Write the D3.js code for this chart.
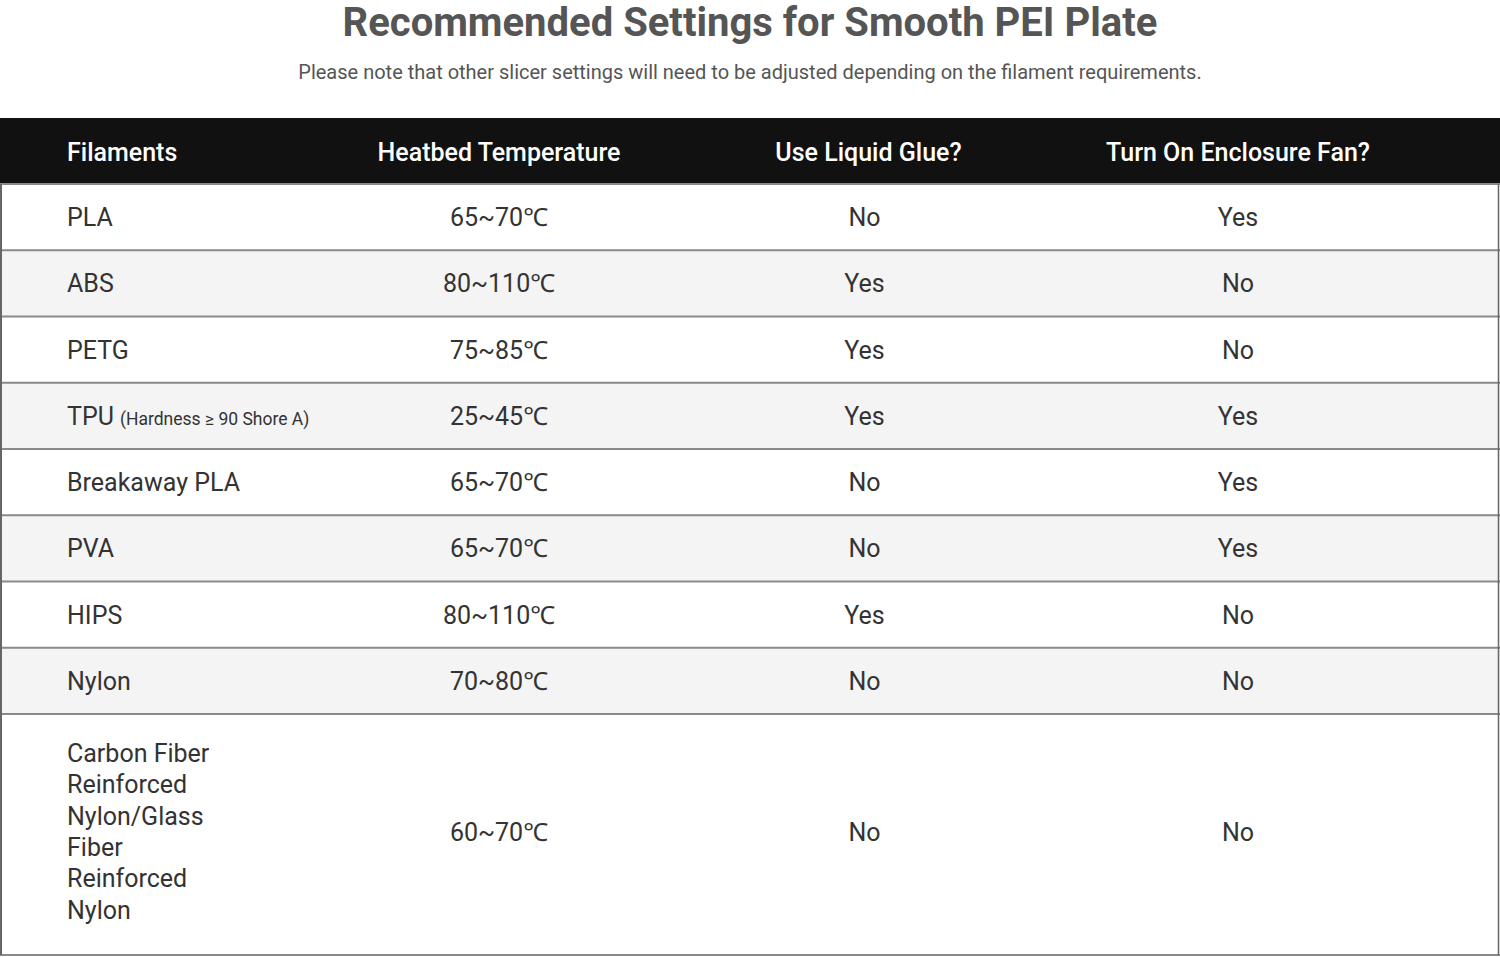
<!DOCTYPE html>
<html><head><meta charset="utf-8">
<script src="https://cdn.jsdelivr.net/npm/d3@7/dist/d3.min.js"></script>
<style>html,body{margin:0;padding:0;background:#fff;}svg{display:block;}</style>
</head><body>
<svg id="c" width="1500" height="957"></svg>
<script>
const title = "Recommended Settings for Smooth PEI Plate";
const subtitle = "Please note that other slicer settings will need to be adjusted depending on the filament requirements.";
const headers = ["Filaments", "Heatbed Temperature", "Use Liquid Glue?", "Turn On Enclosure Fan?"];
const filaments = [
  ["PLA"], ["ABS"], ["PETG"], ["TPU"], ["Breakaway PLA"], ["PVA"], ["HIPS"], ["Nylon"],
  ["Carbon Fiber", "Reinforced", "Nylon/Glass", "Fiber", "Reinforced", "Nylon"]
];
const filamentNotes = ["", "", "", "(Hardness \u2265 90 Shore A)", "", "", "", "", ""];
const heatbed = ["65~70\u2103", "80~110\u2103", "75~85\u2103", "25~45\u2103", "65~70\u2103", "65~70\u2103", "80~110\u2103", "70~80\u2103", "60~70\u2103"];
const liquidGlue = ["No", "Yes", "Yes", "Yes", "No", "No", "Yes", "No", "No"];
const enclosureFan = ["Yes", "No", "No", "Yes", "Yes", "Yes", "No", "No", "No"];
const rowUnits = [1, 1, 1, 1, 1, 1, 1, 1, 3.64];

const svg = d3.select("#c");
const W = 1500;
const font = "Roboto, 'Noto Sans', sans-serif";

svg.append("text").attr("x", W/2).attr("y", 35.5).attr("text-anchor", "middle")
  .attr("font-family", font).attr("font-weight", 700).attr("font-size", 40).attr("fill", "#555")
  .text(title);
svg.append("text").attr("x", W/2).attr("y", 79).attr("text-anchor", "middle")
  .attr("font-family", font).attr("font-size", 20).attr("fill", "#555")
  .text(subtitle);

// vertical layout via scales
const headTop = 118, headBot = 184, tableBot = 955;
const cum = [0];
rowUnits.forEach(u => cum.push(cum[cum.length-1] + u));
const y = d3.scaleLinear().domain([0, cum[cum.length-1]]).range([headBot, tableBot]);
const xCol = d3.scalePoint().domain(headers.slice(1)).range([499, 1238]);
const xLeft = 67;

const rows = filaments.map((f, i) => ({
  i, lines: f, note: filamentNotes[i],
  vals: [heatbed[i], liquidGlue[i], enclosureFan[i]],
  y0: y(cum[i]), y1: y(cum[i+1])
}));

// row backgrounds
svg.append("g").selectAll("rect").data(rows).join("rect")
  .attr("x", 0).attr("width", W).attr("y", d => d.y0).attr("height", d => d.y1 - d.y0)
  .attr("fill", d => d.i % 2 ? "#f4f4f4" : "#fff");

// header
svg.append("rect").attr("x", 0).attr("y", headTop).attr("width", W).attr("height", headBot - headTop).attr("fill", "#111");
const hy = (headTop + headBot)/2 + 9.5;
svg.append("g").selectAll("text").data(headers).join("text")
  .attr("x", (d, i) => i === 0 ? xLeft : xCol(d))
  .attr("y", hy)
  .attr("text-anchor", (d, i) => i === 0 ? "start" : "middle")
  .attr("font-family", font).attr("font-weight", 500).attr("font-size", 25).attr("fill", "#fff")
  .text(d => d);

// row borders
svg.append("g").selectAll("line").data([headBot, ...rows.map(r => r.y1)]).join("line")
  .attr("x1", 0).attr("x2", W).attr("y1", d => d).attr("y2", d => d)
  .attr("stroke", "#8a8a8a").attr("stroke-width", 2);
// side borders
svg.append("line").attr("x1", 1).attr("x2", 1).attr("y1", headBot).attr("y2", tableBot)
  .attr("stroke", "#666").attr("stroke-width", 2);
svg.append("line").attr("x1", 1498.5).attr("x2", 1498.5).attr("y1", headBot).attr("y2", tableBot)
  .attr("stroke", "#666").attr("stroke-width", 1.5);

// cells
const g = svg.append("g").attr("font-family", font).attr("font-size", 25).attr("fill", "#333");
const lineH = 31.3;
rows.forEach(r => {
  const cy = (r.y0 + r.y1)/2;
  const n = r.lines.length;
  const t = g.append("text").attr("x", xLeft);
  r.lines.forEach((ln, k) => {
    t.append("tspan").attr("x", xLeft).attr("y", cy + 9 + (k - (n-1)/2) * lineH - (n > 1 ? 3 : 0)).text(ln);
  });
  if (r.note) t.append("tspan").attr("font-size", 17.5).attr("dx", 6).text(r.note);
  g.selectAll(null).data(r.vals).join("text")
    .attr("x", (d, k) => xCol(headers[k+1]) - (k === 1 ? 4 : 0))
    .attr("y", cy + 9 - (n > 1 ? 2 : 0))
    .attr("text-anchor", "middle")
    .text(d => d);
});
</script>
</body></html>
